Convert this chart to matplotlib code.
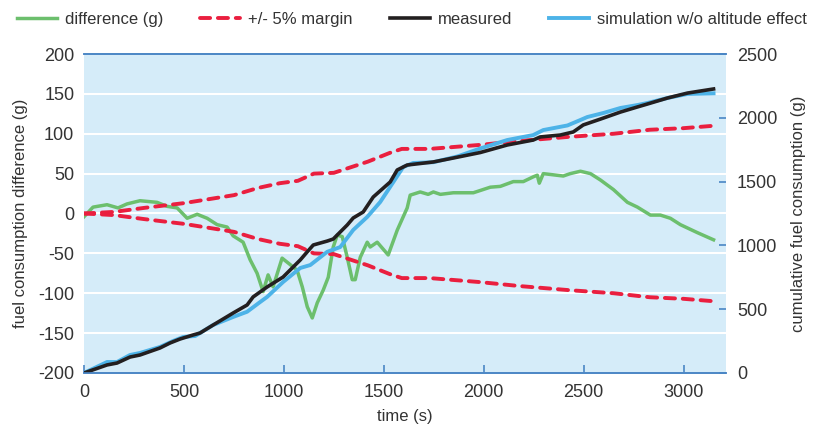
import matplotlib.pyplot as plt

plt.rcParams['font.family'] = ['Liberation Sans', 'DejaVu Sans']
plt.rcParams['axes.unicode_minus'] = False

# measured cumulative fuel (g), right axis
t_meas = [0, 115, 165, 230, 280, 380, 430, 480, 546, 580, 646, 746, 816, 846, 916,
          996, 1082, 1116, 1147, 1217, 1247, 1317, 1347, 1397, 1447, 1532, 1567, 1617,
          1748, 1848, 1983, 2118, 2248, 2283, 2383, 2448, 2498, 2584, 2684, 2769, 2819,
          2919, 3020, 3150]
measured = [0, 63, 78, 125, 141, 196, 235, 266, 298, 313, 376, 470, 533, 596, 674,
            752, 886, 948, 1003, 1034, 1050, 1160, 1215, 1262, 1379, 1497, 1591, 1630,
            1654, 1685, 1728, 1787, 1826, 1850, 1865, 1889, 1944, 1990, 2045, 2085, 2108,
            2155, 2194, 2226]

# simulation without altitude effect (g), right axis
t_sim = [0, 115, 165, 230, 280, 380, 446, 496, 556, 646, 746, 816, 881, 916, 996,
         1082, 1132, 1217, 1282, 1347, 1417, 1482, 1547, 1597, 1647, 1748, 1868, 1983,
         2118, 2248, 2298, 2419, 2484, 2518, 2599, 2684, 2769, 2819, 2919, 3020, 3150]
simulation = [0, 86, 86, 141, 157, 204, 251, 282, 290, 376, 439, 480, 556, 596, 713,
              823, 846, 950, 987, 1121, 1223, 1340, 1495, 1614, 1646, 1652, 1697, 1760,
              1826, 1865, 1904, 1940, 1983, 2006, 2038, 2077, 2100, 2116, 2155, 2187, 2192]

# difference (g), left axis
t_diff = [0, 45, 115, 170, 215, 280, 365, 415, 466, 516, 566, 616, 666, 716, 746, 796,
          831, 866, 896, 921, 946, 991, 1016, 1066, 1092, 1117, 1142, 1167, 1197, 1222,
          1247, 1267, 1292, 1317, 1342, 1357, 1382, 1417, 1432, 1467, 1522, 1567, 1617,
          1632, 1682, 1722, 1748, 1783, 1848, 1948, 2033, 2083, 2148, 2198, 2248, 2268,
          2278, 2298, 2398, 2433, 2484, 2534, 2584, 2649, 2719, 2769, 2834, 2884, 2934,
          2984, 3069, 3150]
difference = [-4, 8, 11, 7, 12, 16, 14, 9, 7, -6, -1, -6, -14, -17, -28, -36,
              -58, -75, -98, -77, -92, -56, -61, -71, -92, -117, -131, -112, -96, -80,
              -42, -27, -29, -55, -83, -83, -55, -36, -42, -36, -52, -21, 7,
              23, 27, 24, 27, 24, 26, 26, 33, 34, 40, 40, 46, 48,
              38, 50, 47, 50, 53, 50, 42, 30, 14, 8, -2, -2, -6,
              -14, -24, -33]

# +/- 5% margin (g), left axis
t_margin = [0, 150, 300, 500, 650, 750, 870, 980, 1070, 1150, 1250, 1420, 1530, 1590,
            1730, 1980, 2180, 2420, 2650, 2830, 3000, 3150]
margin = [0, 2, 7, 13, 19, 23, 32, 38, 41, 50, 51, 65, 76, 81,
          81, 86, 91, 96, 100, 105, 107, 110]

txt = '#333333'
spine_blue = '#4a86c5'

fig = plt.figure(figsize=(8.24, 4.30), dpi=100)
ax = fig.add_axes([0.102, 0.1326, 0.779, 0.7418])
ax.set_facecolor('#d5ecf9')
ax2 = ax.twinx()

dash = (0, (2.6, 2.0))
l1, = ax.plot(t_diff, difference, color='#6cbf6d', lw=2.5, label='difference (g)',
              solid_joinstyle='round')
l2, = ax.plot(t_margin, margin, color='#ea1f3f', lw=2.8, ls=dash, dash_capstyle='round',
              label='+/- 5% margin')
ax.plot(t_margin, [-m for m in margin], color='#ea1f3f', lw=2.8, ls=dash,
        dash_capstyle='round')
l4, = ax2.plot(t_sim, simulation, color='#4db3e8', lw=2.8, solid_joinstyle='round',
               label='simulation w/o altitude effect')
l3, = ax2.plot(t_meas, measured, color='#231f20', lw=2.6, solid_joinstyle='round',
               label='measured')

ax.set_xlim(0, 3212)
ax.set_ylim(-200, 200)
ax2.set_ylim(0, 2500)
ax.set_yticks(range(-200, 201, 50))
ax.set_xticks(range(0, 3001, 500))
ax2.set_yticks(range(0, 2501, 500))
ax.grid(axis='y', color='white', lw=1.5)
ax.set_axisbelow(True)

for a in (ax, ax2):
    a.spines['left'].set_visible(False)
    a.spines['right'].set_visible(False)
    a.spines['top'].set_color(spine_blue)
    a.spines['bottom'].set_color(spine_blue)
    a.spines['top'].set_linewidth(1.2)
    a.spines['bottom'].set_linewidth(1.2)

ax.tick_params(axis='x', direction='in', length=6, width=1.2, color=spine_blue,
               labelsize=13, labelcolor=txt, pad=8)
ax.tick_params(axis='y', length=0, labelsize=13, labelcolor=txt, pad=7)
ax2.tick_params(axis='y', direction='in', length=5, width=1.2, color=spine_blue,
                labelsize=13, labelcolor=txt, pad=8)

ax.set_xlabel('time (s)', fontsize=12, color=txt, labelpad=6)
ax.set_ylabel('fuel consumption difference (g)', fontsize=12, color=txt, labelpad=7)
ax2.set_ylabel('cumulative fuel consumption (g)', fontsize=12, color=txt, labelpad=10)

fig.legend(handles=[l1, l2, l3, l4], loc='center', bbox_to_anchor=(0.5, 0.955),
           ncol=4, frameon=False, fontsize=12, handlelength=2.4, columnspacing=2.2,
           handletextpad=0.5, labelcolor=txt)

fig.savefig('out.png', dpi=100)
